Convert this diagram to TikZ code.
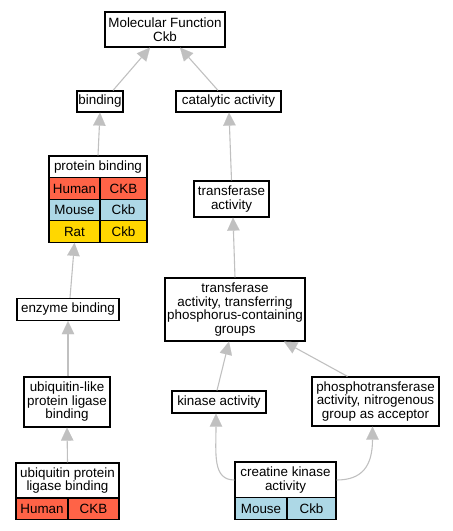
\documentclass[tikz,border=0pt]{standalone}
\usepackage{fontspec}
\setmainfont{Liberation Sans}
\usetikzlibrary{arrows.meta}
\definecolor{edgegray}{HTML}{C0C0C0}
\definecolor{human}{HTML}{FF6347}
\definecolor{mouse}{HTML}{ADD8E6}
\definecolor{rat}{HTML}{FFD700}
\tikzset{
  box/.style={draw=black, line width=1.2pt, fill=white, inner sep=0pt, align=center,
    font=\fontsize{13.4}{13.5}\selectfont},
  cell/.style={box, minimum height=21.5pt},
  edge/.style={draw=edgegray, line width=1.1pt,
    -{Triangle[length=13pt,width=12.5pt,fill=edgegray,line width=0.1pt]}},
}
\begin{document}
\begin{tikzpicture}[x=1pt,y=-1pt]
\useasboundingbox (0,0) rectangle (453,531);
% nodes
\node[box, minimum width=120pt, minimum height=35pt] (mf) at (165,29.5) {Molecular Function\\Ckb};
\node[box, minimum width=46pt, minimum height=21pt] (binding) at (100,101.5) {binding};
\node[box, minimum width=105pt, minimum height=21pt] (cat) at (228.5,101.5) {catalytic activity};
% protein binding table
\node[box, minimum width=98pt, minimum height=22pt] (pbhead) at (98,167) {protein binding};
\node[cell, fill=human, minimum width=51pt] (pbhuman) at (74.5,188.5) {Human};
\node[cell, fill=human, minimum width=47pt] (pbhumang) at (123.5,188.5) {CKB};
\node[cell, fill=mouse, minimum width=51pt] (pbmouse) at (74.5,210) {Mouse};
\node[cell, fill=mouse, minimum width=47pt] (pbmouseg) at (123.5,210) {Ckb};
\node[cell, fill=rat, minimum width=51pt] (pbrat) at (74.5,231.5) {Rat};
\node[cell, fill=rat, minimum width=47pt] (pbratg) at (123.5,231.5) {Ckb};
\node[box, minimum width=102pt, minimum height=22pt] (enz) at (68,309.5) {enzyme binding};
\node[box, minimum width=86pt, minimum height=50pt] (ubl) at (67,402) {ubiquitin-like\\protein ligase\\binding};
% ubiquitin protein ligase binding table
\node[box, minimum width=103pt, minimum height=35pt] (uplhead) at (67.5,480.5) {ubiquitin protein\\ligase binding};
\node[cell, fill=human, minimum width=52pt] (uplhuman) at (42,509) {Human};
\node[cell, fill=human, minimum width=51pt] (uplhumang) at (93.5,509) {CKB};
% right branch
\node[box, minimum width=75pt, minimum height=36pt] (trans) at (231.5,199) {transferase\\activity};
\node[box, minimum width=140pt, minimum height=63pt] (transf) at (235,309.5) {transferase\\activity, transferring\\phosphorus-containing\\groups};
\node[box, minimum width=94pt, minimum height=22pt] (kin) at (219,402) {kinase activity};
\node[box, minimum width=127pt, minimum height=49pt] (phos) at (375.5,401.5) {phosphotransferase\\activity, nitrogenous\\group as acceptor};
% creatine kinase table
\node[box, minimum width=101pt, minimum height=36pt] (ckhead) at (285.5,480) {creatine kinase\\activity};
\node[cell, fill=mouse, minimum width=52pt] (ckmouse) at (261,508.5) {Mouse};
\node[cell, fill=mouse, minimum width=49pt] (ckmouseg) at (311.5,508.5) {Ckb};
% edges
\draw[edge] ([xshift=13pt]binding.north) -- ([xshift=-15pt]mf.south);
\draw[edge] ([xshift=-10.5pt]cat.north) -- ([xshift=15pt]mf.south);
\draw[edge] (pbhead.north) -- (binding.south);
\draw[edge] ([xshift=2pt]enz.north) -- (pbrat.south);
\draw[edge] ([xshift=1pt]ubl.north) -- (enz.south);
\draw[edge] (uplhead.north) -- (ubl.south);
\draw[edge] (trans.north) -- ([xshift=0.5pt]cat.south);
\draw[edge] (transf.north) -- ([xshift=1.5pt]trans.south);
\draw[edge] ([xshift=-2pt]kin.north) -- ([xshift=-6pt]transf.south);
\draw[edge] ([xshift=-28pt]phos.north) -- ([xshift=49pt]transf.south);
\draw[edge] (ckhead.west) .. controls +(-22,0) and +(0,40) .. ([xshift=-3pt]kin.south);
\draw[edge] (ckhead.east) .. controls +(25,0) and +(0,40) .. ([xshift=-3pt]phos.south);
\end{tikzpicture}
\end{document}
